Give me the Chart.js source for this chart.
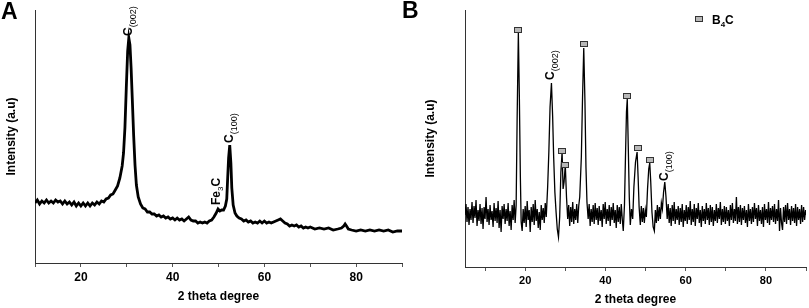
<!DOCTYPE html>
<html><head><meta charset="utf-8">
<script src="https://cdn.jsdelivr.net/npm/chart.js@4.4.1/dist/chart.umd.min.js"></script>
<style>
html,body{margin:0;padding:0;background:#fff;width:809px;height:308px;overflow:hidden;}
canvas{position:absolute;top:0;}
#cA{left:0;} #cB{left:400px;}
</style></head><body>
<canvas id="cA" width="405" height="308"></canvas>
<canvas id="cB" width="409" height="308"></canvas>
<script>
// ---------- data ----------
const xTickLabels = [20, 40, 60, 80];

// Panel A: XRD pattern [2theta, intensity a.u.]
const patternA = [[10,60],[10.5,63],[11,59],[11.5,62],[12,60],[12.5,63],[13,60],[13.5,62],[14,60],[14.5,63],
[15,61],[15.5,62],[16,59],[16.5,62],[17,59],[17.5,61],[18,58],[18.5,61],[19,57],[19.5,60],[20,57],[20.5,60],
[21,57],[21.5,60],[22,57],[22.5,60],[23,58],[23.5,61],[24,59],[24.5,62],[25,61],[25.5,64],[26,65],[26.5,68],
[27,69],[27.5,73],[28,77],[28.5,85],[29,97],[29.3,110],[29.6,135],[29.9,175],[30.2,212],[30.45,225],[30.7,218],
[30.95,195],[31.2,165],[31.5,128],[31.8,98],[32.1,78],[32.5,66],[33,59],[33.5,55],[34,54],[34.5,51],[35,51],
[35.5,49],[36,49],[36.5,47],[37,48],[37.5,46],[38,47],[38.5,45],[39,46],[39.5,44],[40,45],[40.5,43],[41,45],
[41.5,43],[42,44],[42.5,42],[43,44],[43.5,46],[44,43],[44.5,42],[45,42],[45.5,40],[46,41],[46.5,40],[47,41],
[47.5,40],[48,42],[48.5,43],[49,46],[49.5,50],[49.9,54],[50.3,52],[50.7,53],[51.1,53],[51.5,57],[51.8,64],
[52.0,85],[52.2,105],[52.45,118],[52.7,100],[52.9,75],[53.2,58],[53.6,50],[54,47],[54.5,45],[55,44],[55.5,42],
[56,43],[56.5,41],[57,42],[57.5,40],[58,41],[58.5,40],[59,42],[59.5,40],[60,42],[60.5,40],[61,41],[61.5,40],
[62,41],[62.5,42],[63,43],[63.5,44],[64,42],[64.5,40],[65,39],[65.5,37],[66,38],[66.5,37],[67,38],[67.5,36],
[68,37],[68.5,35],[69,36],[69.5,35],[70,36],[71,34],[72,35],[73,34],[74,35],[75,33],[76,34],[76.8,35],[77.3,37],
[77.6,39],[77.9,37],[78.3,34],[79,33],[80,32],[81,33],[82,32],[83,33],[84,32],[85,33],[86,32],[87,33],[88,31],
[89,32],[90,32]];

// Panel B: XRD pattern [2theta, intensity a.u.]
const patternB = [[5.0,52],[5.25,63],[5.5,45],[5.75,60],[6.0,42],[6.25,58],[6.5,47],[6.75,65],[7.0,44],[7.25,61],
[7.5,49],[7.75,67],[8.0,41],[8.25,57],[8.5,46],[8.75,63],[9.0,43],[9.25,59],[9.5,38],[9.75,60],[10.0,48],[10.25,70],
[10.5,45],[10.75,58],[11.0,42],[11.25,62],[11.5,47],[11.75,56],[12.0,40],[12.25,64],[12.5,46],[12.75,59],[13.0,44],
[13.25,66],[13.5,39],[13.75,57],[14.0,35],[14.25,61],[14.5,48],[14.75,63],[15.0,43],[15.25,58],[15.5,46],[15.75,64],
[16.0,41],[16.25,56],[16.5,37],[16.75,62],[17.0,47],[17.25,67],[17.5,44],[17.75,62],
[18.0,150],[18.3,234],[18.55,170],[18.8,90],[19.0,45],[19.25,36],
[19.5,58],[19.75,44],[20.0,61],[20.25,40],[20.5,66],[20.75,47],[21.0,57],[21.25,35],[21.5,60],[21.75,45],[22.0,63],
[22.25,42],[22.5,67],[22.75,46],[23.0,58],[23.25,39],[23.5,55],[23.75,37],[24.0,62],[24.25,47],[24.5,59],[24.75,44],
[25.0,64],[25.25,50],
[25.6,80],[25.9,115],[26.2,160],[26.55,184],[26.85,150],[27.1,110],[27.4,75],[27.7,55],[28.0,38],[28.3,30],[28.6,50],
[28.9,95],[29.2,115],[29.45,78],[29.7,85],[30.0,102],[30.3,70],[30.6,48],
[30.85,62],[31.1,41],[31.35,60],[31.6,45],[31.85,65],[32.1,43],[32.35,58],[32.6,47],[32.85,63],[33.1,44],[33.35,61],
[33.6,70],[34.0,110],[34.3,170],[34.6,219],[34.9,165],[35.15,100],[35.4,65],[35.7,48],
[35.95,63],[36.2,41],[36.45,58],[36.7,45],[36.95,62],[37.2,43],[37.45,64],[37.7,47],[37.95,59],[38.2,42],[38.45,61],
[38.7,46],[38.95,57],[39.2,40],[39.45,63],[39.7,48],[39.95,65],[40.2,43],[40.45,58],[40.7,46],[40.95,62],[41.2,41],
[41.45,60],[41.7,47],[41.95,64],[42.2,44],[42.45,57],[42.7,39],[42.95,62],[43.2,45],[43.45,60],[43.7,43],[43.95,63],
[44.2,48],[44.45,36],[44.75,62],
[45.0,110],[45.25,155],[45.45,168],[45.7,120],[45.95,70],[46.2,42],[46.5,58],[46.8,48],
[47.1,80],[47.5,105],[47.9,115],[48.15,90],[48.4,60],[48.7,42],[48.95,61],[49.2,45],[49.45,59],[49.7,44],[49.95,57],
[50.2,50],[50.5,78],[50.8,98],[51.05,104],[51.3,85],[51.6,55],[51.9,40],[52.2,36],[52.45,57],[52.7,44],[52.95,62],
[53.2,46],[53.45,60],[53.7,48],[53.95,64],[54.2,58],[54.5,75],[54.8,85],[55.1,70],[55.4,48],
[55.65,63],[55.9,44],[56.15,59],[56.4,41],[56.65,62],[56.9,46],[57.15,65],[57.4,43],[57.65,58],[57.9,47],[58.15,61],
[58.4,42],[58.65,59],[58.9,45],[59.15,63],[59.4,40],[59.65,57],[59.9,46],[60.15,62],[60.4,43],[60.65,60],[60.9,47],
[61.15,66],[61.4,42],[61.65,58],[61.9,45],[62.15,63],[62.4,41],[62.65,59],[62.9,48],[63.15,64],[63.4,44],[63.65,57],
[63.9,40],[64.15,61],[64.4,46],[64.65,58],[64.9,43],[65.15,64],[65.4,47],[65.65,59],[65.9,42],[66.15,62],[66.4,45],
[66.65,60],[66.9,41],[67.15,57],[67.4,46],[67.65,63],[67.9,44],[68.15,59],[68.4,48],[68.65,65],[68.9,42],[69.15,58],
[69.4,45],[69.65,61],[69.9,43],[70.15,60],[70.4,46],[70.65,57],[70.9,41],[71.15,62],[71.4,47],[71.65,64],[71.9,44],
[72.15,58],[72.4,46],[72.65,70],[72.9,43],[73.15,60],[73.4,45],[73.65,62],[73.9,42],[74.15,59],[74.4,47],[74.65,61],
[74.9,44],[75.15,57],[75.4,40],[75.65,63],[75.9,46],[76.15,58],[76.4,43],[76.65,60],[76.9,45],[77.15,64],[77.4,48],
[77.65,59],[77.9,41],[78.15,62],[78.4,46],[78.65,57],[78.9,43],[79.15,60],[79.4,40],[79.65,63],[79.9,47],[80.15,58],
[80.4,44],[80.65,65],[80.9,42],[81.15,59],[81.4,47],[81.65,61],[81.9,45],[82.15,63],[82.4,43],[82.65,58],[82.9,46],
[83.15,67],[83.4,36],[83.65,59],[83.9,44],[84.15,37],[84.4,60],[84.65,45],[84.9,62],[85.15,43],[85.4,64],[85.65,47],
[85.9,58],[86.15,42],[86.4,61],[86.65,46],[86.9,59],[87.15,44],[87.4,63],[87.65,41],[87.9,60],[88.15,47],[88.4,58],
[88.65,43],[88.9,62],[89.15,45],[89.4,60],[89.65,47],[89.9,57],[90.0,52]];

// peak labels: [2theta, intensity where label starts, main, subscript, tail]
const labelsA = [[30.45, 227, 'C', '(002)', ''], [49.6, 58, 'Fe', '3', 'C'], [52.45, 120, 'C', '(100)', '']];
const labelsB = [[26.4, 187, 'C', '(002)', ''], [54.8, 86, 'C', '(100)', '']];
// B4C markers: [2theta, intensity]
const markersB = [[18.3, 237], [29.2, 116], [30.05, 102], [34.75, 223], [45.5, 171], [48.0, 119], [51.05, 107]];
const yMaxA = 253, yMaxB = 257;

// ---------- drawing ----------
const FF = '"Liberation Sans", Arial, sans-serif';
Chart.defaults.font.family = FF;
Chart.defaults.color = '#000';

function drawPeakLabel(ctx, px, py, main, sub, tail, subSize) {
  ctx.save();
  ctx.translate(px, py);
  ctx.rotate(-Math.PI / 2);
  ctx.fillStyle = '#000';
  ctx.textBaseline = 'middle';
  ctx.textAlign = 'left';
  let cx = 0;
  ctx.font = 'bold 12px ' + FF;
  ctx.fillText(main, cx, 0); cx += ctx.measureText(main).width;
  ctx.font = subSize + 'px ' + FF;
  ctx.fillText(sub, cx, 4.5); cx += ctx.measureText(sub).width;
  if (tail) { ctx.font = 'bold 12px ' + FF; ctx.fillText(tail, cx, 0); }
  ctx.restore();
}
function drawMarker(ctx, cx, cy) {
  ctx.save();
  ctx.fillStyle = '#b8b8b8';
  ctx.strokeStyle = '#333';
  ctx.lineWidth = 1;
  ctx.fillRect(Math.round(cx) - 3.5, Math.round(cy) - 2.5, 7, 5);
  ctx.strokeRect(Math.round(cx) - 3.5, Math.round(cy) - 2.5, 7, 5);
  ctx.restore();
}

function makeOptions(cfg) {
  return {
    responsive: false, animation: false,
    layout: { padding: cfg.padding },
    plugins: { legend: { display: false }, tooltip: { enabled: false } },
    scales: {
      x: {
        type: 'linear', min: cfg.xmin, max: 90,
        afterBuildTicks: s => { s.ticks = s.ticks.filter(t => t.value % 10 === 0); },
        afterFit: s => { s.height = cfg.xh; },
        ticks: { stepSize: 10, autoSkip: false, maxRotation: 0, padding: 3,
          font: { size: cfg.tickSize, weight: 'bold' },
          callback: v => xTickLabels.includes(v) ? String(v) : '' },
        grid: { display: true, drawOnChartArea: false, drawTicks: true, tickLength: 4, color: '#555' },
        border: { display: true, color: '#333', width: 1 },
        title: { display: true, text: '2 theta degree', font: { size: 12, weight: 'bold' },
          padding: { top: 0, bottom: cfg.titleBottom } }
      },
      y: {
        type: 'linear', min: 0, max: cfg.ymax,
        afterFit: s => { s.width = cfg.yw; },
        ticks: { display: false },
        grid: { display: false },
        border: { display: true, color: '#333', width: 1 },
        title: { display: true, text: 'Intensity (a.u)', font: { size: 12, weight: 'bold' },
          padding: { top: 4, bottom: 0 } }
      }
    }
  };
}

const plugA = {
  id: 'annA',
  afterDraw(chart) {
    const ctx = chart.ctx, xs = chart.scales.x, ys = chart.scales.y;
    labelsA.forEach(l => drawPeakLabel(ctx, xs.getPixelForValue(l[0]), ys.getPixelForValue(l[1]), l[2], l[3], l[4], l[2] === 'Fe' ? 8 : 9));
    ctx.save();
    ctx.fillStyle = '#000';
    ctx.font = 'bold 23px ' + FF;
    ctx.textBaseline = 'alphabetic'; ctx.textAlign = 'left';
    ctx.fillText('A', 1, 18.5);
    ctx.restore();
  }
};
const plugB = {
  id: 'annB',
  afterDraw(chart) {
    const ctx = chart.ctx, xs = chart.scales.x, ys = chart.scales.y;
    labelsB.forEach(l => drawPeakLabel(ctx, xs.getPixelForValue(l[0]), ys.getPixelForValue(l[1]), l[2], l[3], l[4], 9));
    markersB.forEach(m => drawMarker(ctx, xs.getPixelForValue(m[0]), ys.getPixelForValue(m[1])));
    ctx.save();
    ctx.fillStyle = '#000';
    ctx.font = 'bold 23px ' + FF;
    ctx.textBaseline = 'alphabetic'; ctx.textAlign = 'left';
    ctx.fillText('B', 2, 17.5);
    // legend
    drawMarker(ctx, 299, 19);
    ctx.font = 'bold 12px ' + FF;
    ctx.textBaseline = 'alphabetic';
    let lx = 312;
    ctx.fillText('B', lx, 24); lx += ctx.measureText('B').width;
    ctx.font = 'bold 8px ' + FF;
    ctx.fillText('4', lx, 27); lx += ctx.measureText('4').width;
    ctx.font = 'bold 12px ' + FF;
    ctx.fillText('C', lx, 24);
    ctx.restore();
  }
};

new Chart(document.getElementById('cA'), {
  type: 'line',
  data: { datasets: [{ data: patternA.map(p => ({ x: p[0], y: p[1] })), borderColor: '#000',
    borderWidth: 2.8, pointRadius: 0, tension: 0, fill: false }] },
  options: makeOptions({ padding: { top: 10, right: 2, left: 0, bottom: 0 }, xmin: 10, xh: 45, yw: 35,
    ymax: yMaxA, tickSize: 12, titleBottom: 4 }),
  plugins: [plugA]
});
new Chart(document.getElementById('cB'), {
  type: 'line',
  data: { datasets: [{ data: patternB.map(p => ({ x: p[0], y: p[1] })), borderColor: '#000',
    borderWidth: 1.3, pointRadius: 0, tension: 0, fill: false }] },
  options: makeOptions({ padding: { top: 10, right: 3, left: 19, bottom: 0 }, xmin: 5, xh: 41, yw: 46,
    ymax: yMaxB, tickSize: 11, titleBottom: 1 }),
  plugins: [plugB]
});
</script></body></html>
